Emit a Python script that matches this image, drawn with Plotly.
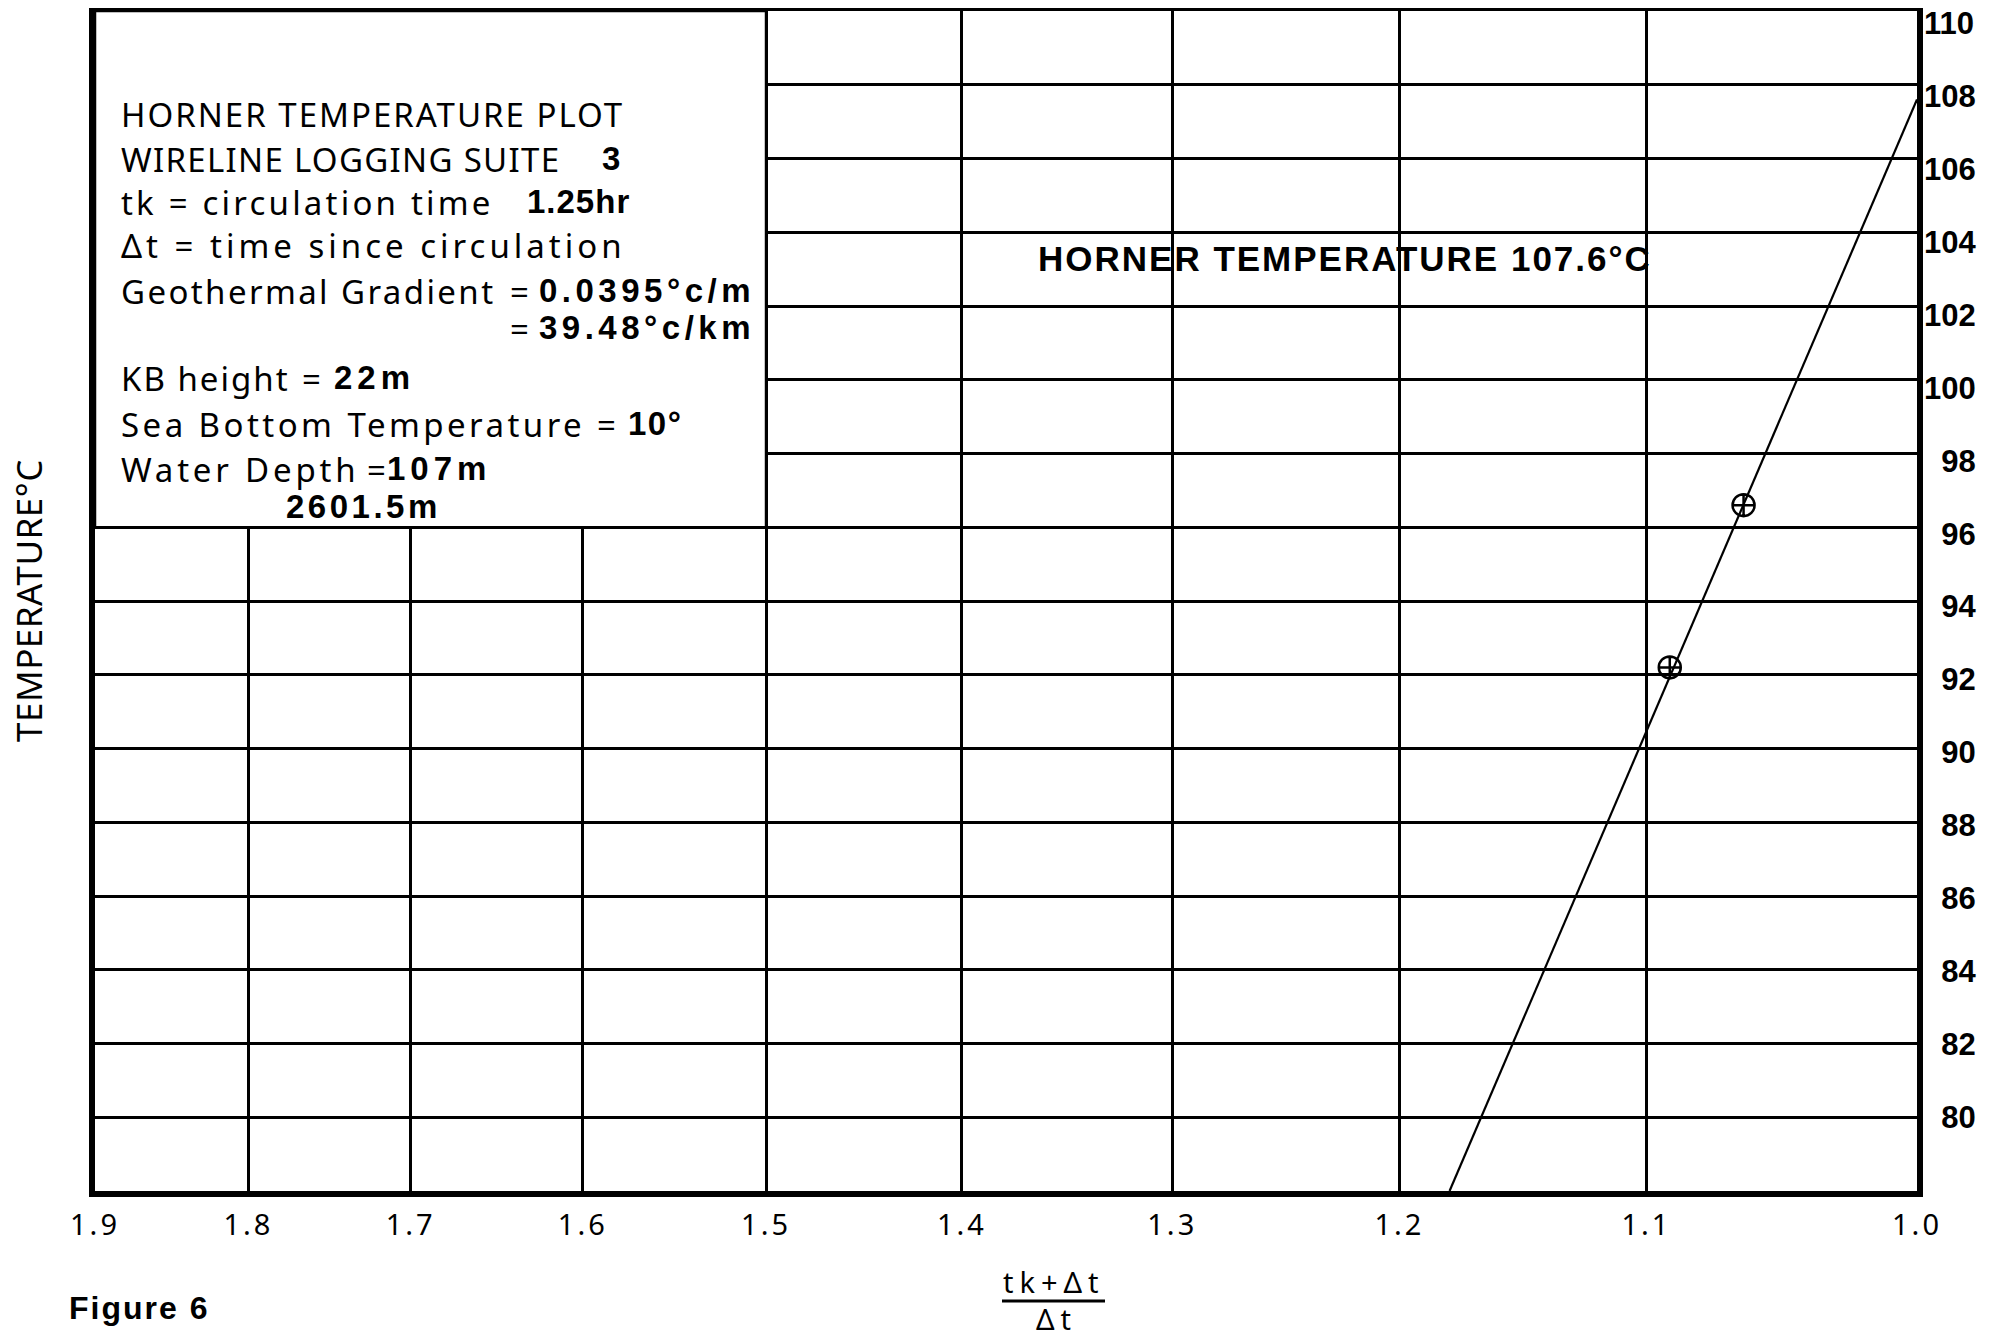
import math
import plotly.graph_objects as go

# ---------------- data ----------------
x_tick_values = [1.9, 1.8, 1.7, 1.6, 1.5, 1.4, 1.3, 1.2, 1.1, 1.0]
x_tick_labels = ["1.9", "1.8", "1.7", "1.6", "1.5", "1.4", "1.3", "1.2", "1.1", "1.0"]
y_tick_values = [80, 82, 84, 86, 88, 90, 92, 94, 96, 98, 100, 102, 104, 106, 108, 110]
y_tick_labels = ["80", "82", "84", "86", "88", "90", "92", "94", "96", "98",
                 "100", "102", "104", "106", "108", "110"]

# measured points: (tk+dt)/dt  vs temperature
ratio_measured = [1.063, 1.091]
temp_measured = [96.6, 92.2]

# Horner extrapolation line
ratio_fit = [1.0, 1.179]
temp_fit = [107.6, 78.0]

# ---------------- layout geometry ----------------
OFF = 8                      # default page (body) margin of the html page
W, H = 1990 - OFF, 1337 - OFF
ML, MR, MT, MB = 87, 73, 3, 146
PW = W - ML - MR
PH = H - MT - MB

Y_RANGE = [78, 110]
# the printed scale labels sit slightly below their grid lines (more so at the top):
# the label axis runs at a marginally smaller scale than the grid axis
LABEL_DRIFT = 0.4            # px of extra downward offset per degree above 80
ppd = PH / (Y_RANGE[1] - Y_RANGE[0])
lab_top = (Y_RANGE[1] * ppd - LABEL_DRIFT * 80) / (ppd - LABEL_DRIFT)
lab_range = [lab_top - PH / (ppd - LABEL_DRIFT), lab_top]

LABEL_FONT = "Noto Sans"
VALUE_FONT = "Liberation Sans"
K = {"Noto Sans": 0.45, "Liberation Sans": 0.48}


def px(X):
    return (X - OFF - ML) / PW


def py(Y):
    return 1 - (Y - OFF - MT) / PH


annotations = []


def txt(X, baseline, text, size, family, bold=False, ls=0.0, anchor="left"):
    center = baseline - K[family] * size
    style = "letter-spacing:%spx" % ls
    annotations.append(dict(
        xref="paper", yref="paper", x=px(X), y=py(center),
        xanchor=anchor, yanchor="middle", showarrow=False,
        text='<span style="%s">%s</span>' % (style, text),
        font=dict(family=family, size=size, color="black",
                  weight="bold" if bold else "normal"),
    ))


SZ = 33
# info box texts
txt(119, 129, "HORNER TEMPERATURE PLOT", SZ, LABEL_FONT, ls=2.0)
txt(119, 174, "WIRELINE LOGGING SUITE", SZ, LABEL_FONT, ls=1.3)
txt(600, 174, "3", SZ, VALUE_FONT, bold=True)
txt(119, 217, "tk = circulation time", SZ, LABEL_FONT, ls=3.2)
txt(525, 217, "1.25hr", SZ, VALUE_FONT, bold=True, ls=1)
txt(119, 260, "Δt = time since circulation", SZ, LABEL_FONT, ls=4.0)
txt(119, 306, "Geothermal Gradient", SZ, LABEL_FONT, ls=2.4)
txt(508, 306, "=", SZ, LABEL_FONT)
txt(537, 306, "0.0395°c/m", SZ, VALUE_FONT, bold=True, ls=4.5)
txt(508, 343, "=", SZ, LABEL_FONT)
txt(537, 343, "39.48°c/km", SZ, VALUE_FONT, bold=True, ls=4.5)
txt(119, 393, "KB height", SZ, LABEL_FONT, ls=2.0)
txt(300, 393, "=", SZ, LABEL_FONT)
txt(332, 393, "22m", SZ, VALUE_FONT, bold=True, ls=5)
txt(119, 439, "Sea Bottom Temperature", SZ, LABEL_FONT, ls=3.45)
txt(595, 439, "=", SZ, LABEL_FONT)
txt(626, 439, "10°", SZ, VALUE_FONT, bold=True, ls=1.5)
txt(119, 484, "Water Depth", SZ, LABEL_FONT, ls=3.8)
txt(365, 484, "=", SZ, LABEL_FONT)
txt(385, 484, "107m", SZ, VALUE_FONT, bold=True, ls=5)
txt(284, 522, "2601.5m", SZ, VALUE_FONT, bold=True, ls=3.5)

# result label
txt(1036, 275, "HORNER TEMPERATURE %.1f°C" % temp_fit[0], 35, VALUE_FONT, bold=True, ls=2)

# x-axis title as a fraction
txt(1054, 1295, "tk+Δt", 29, LABEL_FONT, ls=6, anchor="center")
txt(1056, 1332, "Δt", 29, LABEL_FONT, ls=6, anchor="center")

# figure caption
txt(67, 1323, "Figure 6", 32, VALUE_FONT, bold=True, ls=2)

# y-axis title (left side, rotated)
annotations.append(dict(
    xref="paper", yref="paper", x=px(28), y=py(601), xanchor="center", yanchor="middle",
    showarrow=False, textangle=-90,
    text='<span style="letter-spacing:0.5px">TEMPERATURE°C</span>',
    font=dict(family=LABEL_FONT, size=35, color="black"),
))

# ---------------- figure ----------------
fig = go.Figure()
fig.add_trace(go.Scatter(
    x=ratio_fit, y=temp_fit, mode="lines",
    line=dict(color="black", width=2.2), hoverinfo="skip", showlegend=False,
))
fig.add_trace(go.Scatter(
    x=ratio_measured, y=temp_measured, mode="markers",
    marker=dict(symbol="circle-cross-open", size=22, color="black", line=dict(width=2.5)),
    showlegend=False,
))
# empty trace that attaches the temperature label scale (yaxis2) to the plot
fig.add_trace(go.Scatter(x=[], y=[], yaxis="y2", mode="markers",
                         hoverinfo="skip", showlegend=False))

lx_max, lx_min = math.log10(x_tick_values[0]), math.log10(x_tick_values[-1])
box_right = (lx_max - math.log10(1.5)) / (lx_max - lx_min)

shapes = [
    # white info box covering the grid in the upper-left corner
    dict(type="rect", xref="paper", yref="y", x0=0, x1=box_right, y0=96, y1=Y_RANGE[1],
         fillcolor="white", line=dict(color="black", width=2.5), layer="above"),
    # fraction bar of the x-axis title
    dict(type="line", xref="paper", yref="paper", x0=px(1002), x1=px(1105),
         y0=py(1301), y1=py(1301), line=dict(color="black", width=3)),
]

# right-align the y tick labels (figure space pads the two-digit labels)
y_text = [("\u2007" + t) if len(t) == 2 else t for t in y_tick_labels]

fig.update_layout(
    width=W, height=H, autosize=False,
    margin=dict(l=ML, r=MR, t=MT, b=MB, autoexpand=False),
    paper_bgcolor="white", plot_bgcolor="white",
    showlegend=False,
    annotations=annotations,
    shapes=shapes,
    xaxis=dict(
        type="log", range=[lx_max, lx_min],
        tickmode="array", tickvals=x_tick_values,
        ticktext=['<span style="letter-spacing:3px">%s</span>' % t for t in x_tick_labels],
        tickfont=dict(family=LABEL_FONT, size=29, color="black"),
        ticks="", ticklabelstandoff=3, automargin=False,
        showgrid=True, gridcolor="black", gridwidth=2.5,
        showline=True, linecolor="black", linewidth=5.5, mirror=True,
        zeroline=False,
    ),
    yaxis=dict(
        range=Y_RANGE, side="left",
        tickmode="array", tickvals=y_tick_values, showticklabels=False,
        ticks="", automargin=False,
        showgrid=True, gridcolor="black", gridwidth=2.5,
        showline=True, linecolor="black", linewidth=5.5, mirror=True,
        zeroline=False,
    ),
    yaxis2=dict(
        overlaying="y", side="right", range=lab_range,
        tickmode="array", tickvals=y_tick_values, ticktext=y_text,
        tickfont=dict(family=VALUE_FONT, size=31, color="black", weight="bold"),
        ticks="", ticklabelstandoff=-5, ticklabeloverflow="allow", automargin=False,
        showgrid=False, zeroline=False,
        showline=True, linecolor="black", linewidth=5.5,
    ),
)

fig.write_html("out.html")
